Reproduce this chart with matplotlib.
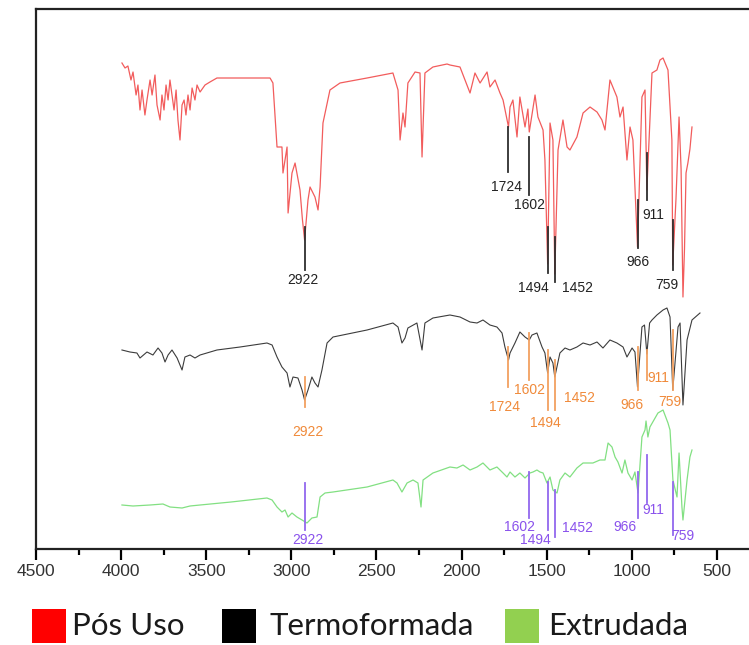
import matplotlib
matplotlib.use("Agg")
import matplotlib.pyplot as plt
from matplotlib.patches import Rectangle

# FTIR spectra (wavenumber in cm-1, transmittance in arbitrary units, stacked)
wn_pos_uso = [3995, 3977, 3960, 3942, 3930, 3912, 3901, 3889, 3877, 3860, 3848, 3830, 3818, 3801,
              3789, 3771, 3760, 3748, 3736, 3724, 3713, 3701, 3689, 3677, 3666, 3654, 3642, 3630,
              3619, 3607, 3595, 3583, 3566, 3554, 3536, 3507, 3478, 3437, 3301, 3125, 3108, 3084,
              3055, 3049, 3025, 3019, 2996, 2978, 2949, 2935, 2922, 2902, 2890, 2861, 2843, 2831,
              2814, 2773, 2714, 2555, 2403, 2373, 2361, 2344, 2332, 2315, 2273, 2244, 2232, 2215,
              2168, 2085, 2068, 2009, 1950, 1921, 1891, 1850, 1833, 1803, 1774, 1756, 1724, 1715,
              1698, 1674, 1657, 1627, 1610, 1602, 1568, 1551, 1521, 1510, 1494, 1480, 1463, 1452,
              1433, 1404, 1380, 1363, 1322, 1286, 1245, 1204, 1175, 1157, 1128, 1087, 1069, 1051,
              1028, 1010, 993, 966, 940, 922, 911, 881, 852, 834, 816, 787, 764, 759, 746, 740,
              722, 710, 699, 690, 681, 670, 658, 646]
t_pos_uso = [486, 481, 483, 469, 477, 454, 464, 439, 459, 434, 449, 469, 454, 474,
             444, 429, 454, 439, 464, 449, 469, 454, 439, 459, 429, 409, 444, 449,
             434, 454, 439, 461, 449, 464, 457, 464, 467, 471, 471, 471, 466, 402,
             402, 376, 402, 336, 376, 386, 359, 330, 309, 349, 362, 352, 339, 362,
             426, 459, 466, 471, 476, 459, 409, 436, 422, 466, 477, 476, 392, 476,
             482, 485, 484, 482, 456, 476, 466, 477, 462, 469, 456, 449, 422, 442,
             449, 412, 452, 422, 440, 417, 454, 432, 419, 389, 285, 426, 409, 275,
             399, 429, 402, 399, 412, 436, 442, 437, 429, 419, 469, 452, 432, 442,
             389, 422, 409, 302, 452, 459, 359, 476, 479, 489, 491, 479, 409, 284, 330, 350,
             432, 380, 252, 300, 376, 386, 400, 422]

wn_termo = [3995, 3948, 3907, 3889, 3848, 3813, 3783, 3760, 3742, 3724, 3701, 3671, 3642, 3625,
            3595, 3566, 3536, 3437, 3301, 3143, 3113, 3084, 3055, 3025, 3008, 2990, 2961, 2937,
            2922, 2902, 2879, 2861, 2843, 2820, 2790, 2755, 2555, 2403, 2373, 2350, 2332, 2315,
            2262, 2232, 2215, 2168, 2068, 2009, 1950, 1909, 1874, 1833, 1792, 1762, 1745, 1724,
            1715, 1686, 1657, 1627, 1602, 1586, 1557, 1527, 1510, 1494, 1480, 1463, 1452, 1422,
            1392, 1363, 1322, 1286, 1245, 1204, 1169, 1128, 1087, 1051, 1028, 998, 981, 966,
            940, 925, 911, 895, 881, 852, 816, 793, 775, 759, 728, 716, 699, 675, 646, 599]
t_termo = [199, 197, 196, 191, 197, 194, 201, 196, 187, 194, 199, 191, 179, 192,
           194, 191, 194, 199, 202, 206, 204, 192, 182, 176, 162, 172, 171, 159,
           149, 159, 172, 166, 162, 179, 206, 212, 219, 226, 222, 206, 211, 221,
           226, 199, 226, 231, 234, 232, 227, 226, 229, 224, 222, 216, 202, 189,
           196, 206, 217, 212, 209, 214, 216, 202, 196, 176, 192, 186, 172, 196,
           201, 199, 202, 206, 204, 207, 201, 209, 206, 202, 192, 201, 197, 162,
           222, 224, 195, 226, 229, 234, 239, 241, 232, 159, 222, 226, 144, 209, 229, 236]

wn_extru = [3995, 3930, 3830, 3754, 3713, 3642, 3595, 3536, 3354, 3143, 3113, 3084, 3055, 3037,
            3019, 2996, 2967, 2937, 2908, 2879, 2849, 2831, 2802, 2755, 2555, 2403, 2379, 2350,
            2320, 2285, 2256, 2238, 2226, 2168, 2068, 2027, 1991, 1950, 1909, 1874, 1833, 1792,
            1756, 1733, 1715, 1686, 1657, 1627, 1598, 1580, 1557, 1539, 1521, 1498, 1480, 1463,
            1439, 1422, 1392, 1363, 1322, 1286, 1228, 1187, 1157, 1139, 1116, 1098, 1081, 1057,
            1040, 1022, 998, 981, 963, 940, 922, 916, 905, 893, 846, 816, 787, 775, 758, 734,
            722, 705, 699, 675, 658, 646]
t_extru = [44, 43, 44, 45, 42, 41, 43, 44, 47, 51, 49, 42, 37, 39,
           32, 36, 32, 29, 26, 31, 32, 52, 56, 57, 62, 69, 66, 57,
           66, 69, 66, 42, 69, 76, 82, 81, 84, 79, 82, 86, 79, 82,
           76, 72, 77, 72, 76, 71, 76, 77, 79, 77, 76, 66, 72, 59,
           56, 69, 76, 72, 81, 86, 86, 89, 89, 106, 102, 92, 87, 76,
           89, 76, 69, 77, 56, 112, 119, 128, 112, 122, 136, 139, 126, 119, 69, 52,
           96, 42, 29, 69, 92, 99]

legend_labels = ["Pós Uso", "Termoformada", "Extrudada"]
x_ticks = [4500, 4000, 3500, 3000, 2500, 2000, 1500, 1000, 500]

# peak annotations: (wavenumber, line top, line bottom, text x, text y)
peaks_pos_uso = [(2922, 322, 279, 2932, 269), (1724, 422, 377, 1733, 362),
                 (1602, 412, 354, 1598, 344), (1494, 322, 276, 1580, 261),
                 (1452, 312, 267, 1316, 261), (966, 349, 301, 963, 287),
                 (911, 396, 349, 875, 334), (759, 329, 279, 793, 264)]
peaks_termo = [(2922, 172, 142, 2902, 117), (1724, 202, 162, 1745, 142),
               (1602, 216, 169, 1598, 159), (1494, 199, 139, 1510, 126),
               (1452, 189, 139, 1304, 151), (966, 202, 159, 998, 144),
               (911, 199, 169, 846, 171), (759, 219, 159, 775, 147)]
peaks_extru = [(2922, 66, 19, 2902, 9), (1602, 77, 31, 1657, 22),
               (1494, 67, 19, 1568, 9), (1452, 59, 12, 1316, 21),
               (966, 77, 31, 1040, 22), (911, 94, 46, 875, 39),
               (759, 67, 14, 699, 13)]

W, H = 749, 645
fig = plt.figure(figsize=(W / 100, H / 100), dpi=100)
ax = fig.add_axes([36 / W, (H - 549) / H, (W - 36) / W, 540 / H])

ax.plot(wn_pos_uso, t_pos_uso, color="#F25C5C", lw=0.9)
ax.plot(wn_termo, t_termo, color="#3C3C3C", lw=0.8)
ax.plot(wn_extru, t_extru, color="#82E082", lw=0.9)

def annotate(peaks, line_color, text_color):
    for wn, top, bottom, tx, ty in peaks:
        ax.plot([wn, wn], [bottom, top], color=line_color, lw=1.3)
        ax.text(tx, ty, str(wn), color=text_color, fontsize=10, ha="center", va="center",
                family="Liberation Sans")

annotate(peaks_pos_uso, "#2E2E2E", "#222222")
annotate(peaks_termo, "#F2A060", "#F08A3A")
annotate(peaks_extru, "#9268EE", "#8A52EC")

ax.set_xlim(4500, 311)
ax.set_ylim(0, 540)
ax.set_xticks(x_ticks)
ax.set_xticks(range(4250, 300, -500), minor=True)
ax.set_yticks([])
ax.spines["right"].set_visible(False)
for s in ("left", "top", "bottom"):
    ax.spines[s].set_linewidth(1.6)
    ax.spines[s].set_color("#222222")
ax.tick_params(axis="x", which="major", direction="out", length=8, width=1.6,
               labelsize=12.5, labelcolor="#333333", pad=3)
ax.tick_params(axis="x", which="minor", direction="out", length=4, width=1.6)
for lbl in ax.get_xticklabels():
    lbl.set_family("Liberation Sans")

# legend row
legend_colors = ["#FF0000", "#000000", "#92D050"]
square_x = [32, 222, 505]
text_x = [72, 270, 548]
for sx, tx, col, lab in zip(square_x, text_x, legend_colors, legend_labels):
    fig.patches.append(Rectangle((sx / W, (H - 643) / H), 34 / W, 34 / H,
                                 transform=fig.transFigure, color=col, lw=0))
    fig.text(tx / W, (H - 626) / H, lab, fontsize=22.5, family="Lato", color="#1A1A1A",
             ha="left", va="center")

fig.savefig("out.png", dpi=100)
